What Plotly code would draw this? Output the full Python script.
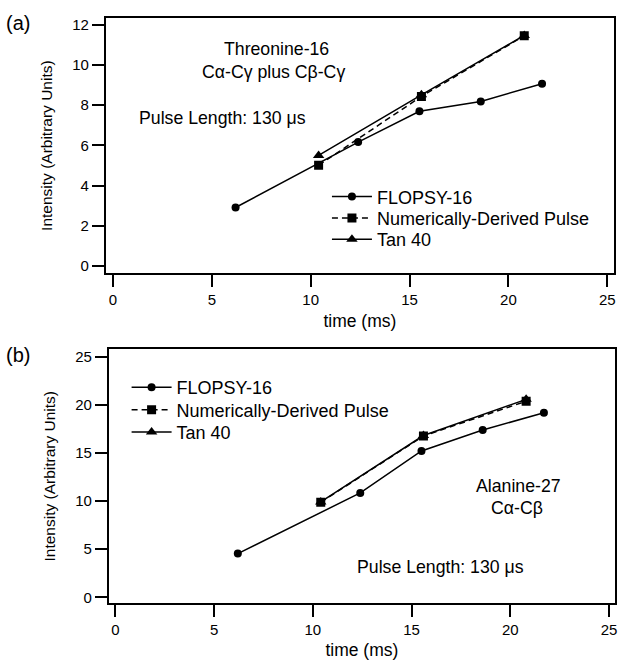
import plotly.graph_objects as go

# ---------------- data ----------------
# panel (a): Threonine-16
time_flopsy_a = [6.2, 12.4, 15.5, 18.6, 21.7]
flopsy_a = [2.91, 6.16, 7.69, 8.18, 9.06]
time_num_a = [10.4, 15.6, 20.8]
num_a = [5.01, 8.43, 11.44]
time_tan_a = [10.4, 15.6, 20.8]
tan_a = [5.50, 8.51, 11.46]

# panel (b): Alanine-27
time_flopsy_b = [6.2, 12.4, 15.5, 18.6, 21.7]
flopsy_b = [4.54, 10.84, 15.20, 17.37, 19.16]
time_num_b = [10.4, 15.6, 20.8]
num_b = [9.87, 16.75, 20.36]
time_tan_b = [10.4, 15.6, 20.8]
tan_b = [9.90, 16.80, 20.55]

series_names = ["FLOPSY-16", "Numerically-Derived Pulse", "Tan 40"]
x_ticks = [0, 5, 10, 15, 20, 25]
y_ticks_a = [0, 2, 4, 6, 8, 10, 12]
y_ticks_b = [0, 5, 10, 15, 20, 25]

W, H = 621, 660
FONT = "Liberation Sans, Arial, sans-serif"
BLACK = "black"


def px(x):
    return x / W


def py(y):
    return 1 - y / H


fig = go.Figure()


def add_panel(xa, ya, legends, tf, f, tn, n, tt, t):
    lf, ln, lt = legends
    fig.add_trace(go.Scatter(
        x=tf, y=f, name=series_names[0], mode="lines+markers", xaxis=xa,
        yaxis=ya, legend=lf,
        line=dict(color=BLACK, width=1.5),
        marker=dict(symbol="circle", size=8, color=BLACK)))
    fig.add_trace(go.Scatter(
        x=tt, y=t, name=series_names[2], mode="lines+markers", xaxis=xa,
        yaxis=ya, legend=lt,
        line=dict(color=BLACK, width=1.5),
        marker=dict(symbol="triangle-up", size=10, color=BLACK)))
    fig.add_trace(go.Scatter(
        x=tn, y=n, name=series_names[1], mode="lines+markers",
        xaxis=xa, yaxis=ya, legend=ln,
        line=dict(color=BLACK, width=1.5, dash="6px,4px"),
        marker=dict(symbol="square", size=9, color=BLACK)))


add_panel("x", "y", ("legend", "legend2", "legend3"),
          time_flopsy_a, flopsy_a, time_num_a, num_a, time_tan_a, tan_a)
add_panel("x2", "y2", ("legend4", "legend5", "legend6"),
          time_flopsy_b, flopsy_b, time_num_b, num_b, time_tan_b, tan_b)

axis_common = dict(
    showgrid=False, zeroline=False, showline=True, mirror=True,
    linecolor=BLACK, linewidth=1.5, ticks="outside", ticklen=12,
    tickwidth=1.5, tickcolor=BLACK,
    tickfont=dict(family=FONT, size=15, color=BLACK),
)

leg_font = dict(family=FONT, size=18, color=BLACK)


def leg(x, y):
    return dict(x=px(x), y=py(y), xanchor="left", yanchor="middle",
                bgcolor="rgba(0,0,0,0)", borderwidth=0, tracegroupgap=0,
                font=leg_font, itemwidth=40)


fig.update_layout(
    width=W, height=H,
    margin=dict(l=0, r=0, t=0, b=0),
    paper_bgcolor="white", plot_bgcolor="white",
    font=dict(family=FONT, color=BLACK),
    xaxis=dict(domain=[px(106), px(616)], range=[-0.37, 25.34], anchor="y",
               tickvals=x_ticks,
               title=dict(text="time (ms)", font=dict(size=17.5), standoff=8),
               **axis_common),
    yaxis=dict(domain=[py(273), py(16)], range=[-0.36, 12.33], anchor="x",
               tickvals=y_ticks_a,
               title=dict(text="Intensity (Arbitrary Units)",
                          font=dict(size=15.5), standoff=16),
               **axis_common),
    xaxis2=dict(domain=[px(109), px(617)], range=[-0.34, 25.3], anchor="y2",
                tickvals=x_ticks,
                title=dict(text="time (ms)", font=dict(size=17.5), standoff=9),
                **axis_common),
    yaxis2=dict(domain=[py(605), py(349.3)], range=[-0.62, 25.76],
                anchor="x2", tickvals=y_ticks_b,
                title=dict(text="Intensity (Arbitrary Units)",
                           font=dict(size=15.5), standoff=16),
                **axis_common),
    legend=leg(328, 196),
    legend2=leg(328, 217.5),
    legend3=leg(328, 239),
    legend4=leg(127, 388),
    legend5=leg(127, 410.5),
    legend6=leg(127, 433),
    showlegend=True,
)


def ann(text, x, y, xanchor="center", size=17.7):
    fig.add_annotation(text=text, x=px(x), y=py(y), xref="paper", yref="paper",
                       xanchor=xanchor, yanchor="middle", showarrow=False,
                       font=dict(family=FONT, size=size, color=BLACK))


ann("Threonine-16", 277, 47)
ann("Cα-Cγ plus Cβ-Cγ", 274, 70)
ann("Pulse Length: 130 μs", 137, 117, xanchor="left")
ann("Alanine-27", 520, 487)
ann("Cα-Cβ", 519, 509)
ann("Pulse Length: 130 μs", 356, 568, xanchor="left")
ann("(a)", 4, 21, xanchor="left", size=20)
ann("(b)", 4, 355, xanchor="left", size=20)

fig.write_html("out.html")
